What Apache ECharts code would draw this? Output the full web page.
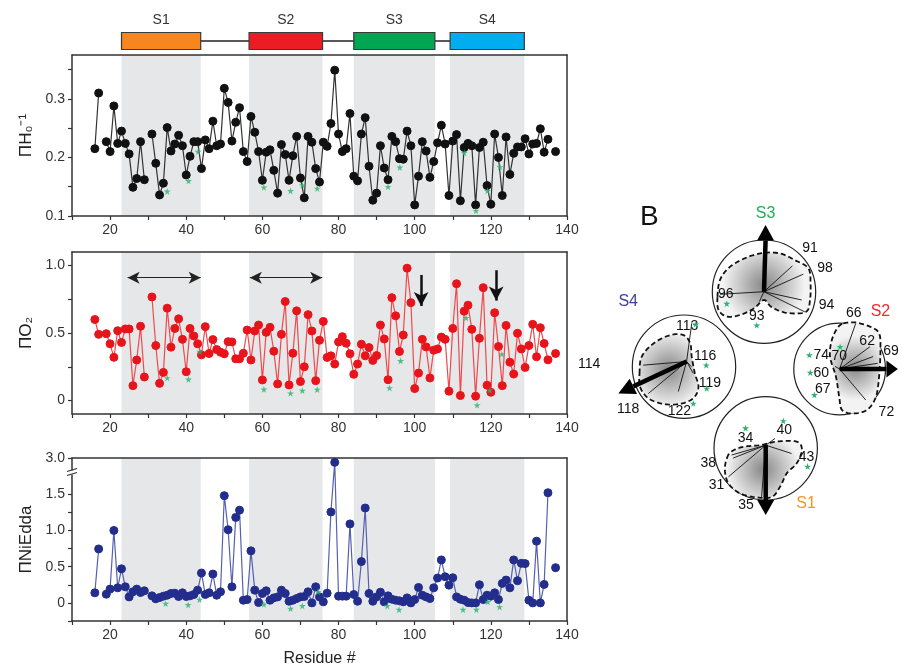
<!DOCTYPE html>
<html><head><meta charset="utf-8">
<script src="https://cdn.jsdelivr.net/npm/echarts@6/dist/echarts.min.js"></script>
<style>html,body{margin:0;padding:0;background:#fff}#c{width:913px;height:669px}</style>
</head><body><div id="c"></div>
<script>
// ---------------- DATA ----------------
const residues = [16,17,18,19,20,21,22,23,24,25,26,27,28,29,30,31,32,33,34,35,36,37,38,39,40,41,42,43,44,45,46,47,48,49,50,
51,52,53,54,55,56,57,58,59,60,61,62,63,64,65,66,67,68,69,70,71,72,73,74,75,76,77,78,79,80,81,82,83,84,85,86,87,88,89,90,
91,92,93,94,95,96,97,98,99,100,101,102,103,104,105,106,107,108,109,110,111,112,113,114,115,116,117,118,119,120,
121,122,123,124,125,126,127,128,129,130,131,132,133,134,135,136,137];

const hValues = [0.215,0.31,null,0.227,0.21,0.288,0.224,0.245,0.224,0.206,0.149,0.164,0.227,0.162,null,0.240,0.19,0.136,0.156,0.251,
0.211,0.223,0.238,0.22,0.170,0.202,0.227,0.227,0.181,0.23,0.215,0.262,0.22,0.223,0.318,0.294,0.228,0.26,0.285,0.21,
0.193,0.27,0.243,0.21,0.161,0.209,0.213,0.178,0.139,0.222,0.205,0.161,0.203,0.236,0.165,0.131,0.236,0.226,0.181,0.158,
0.226,0.219,0.258,0.349,0.24,0.21,0.215,0.275,0.168,0.16,0.24,0.268,0.185,0.127,0.139,0.22,0.182,0.162,0.236,0.227,
0.198,0.197,0.245,0.22,0.119,0.168,0.227,0.211,0.166,0.193,0.225,0.255,0.223,0.135,0.228,0.239,0.126,0.217,0.224,0.22,
0.119,0.217,0.226,0.152,0.12,0.24,0.2,0.135,0.235,0.171,0.207,0.218,0.218,0.232,0.206,0.223,0.224,0.249,0.209,0.231,null,0.21];

const oValues = [0.60,0.49,null,0.495,0.42,0.32,0.517,0.43,0.53,0.53,0.11,0.30,0.55,0.174,null,0.767,0.407,0.127,0.208,0.684,
0.395,0.534,0.605,0.453,0.213,0.534,0.478,0.42,0.338,0.547,0.348,0.451,0.377,0.358,0.346,0.436,0.434,0.309,0.309,0.35,
0.522,0.30,0.515,0.559,0.152,0.505,0.542,0.365,0.123,0.49,0.733,0.115,0.35,0.664,0.14,0.25,0.636,0.515,0.147,0.446,
0.586,0.319,0.331,0.27,0.434,0.473,0.424,0.346,0.194,0.27,0.417,0.331,0.392,0.297,0.333,0.559,0.456,0.154,0.762,0.627,
0.363,0.485,0.98,0.725,0.088,0.203,0.453,0.397,0.167,0.373,0.382,0.47,0.453,0.069,0.534,0.865,0.037,0.662,0.706,0.527,
0.032,0.461,0.836,0.113,0.061,0.65,0.40,0.11,0.556,0.284,0.196,0.498,0.382,0.245,0.407,0.564,0.324,0.539,0.422,0.301,null,0.348];

const nValues = [0.139,0.745,null,0.12,0.19,1.0,0.208,0.47,0.222,0.083,0.153,0.19,0.143,0.167,null,0.097,0.056,0.074,0.093,0.106,
0.13,0.134,0.088,0.139,0.088,0.097,0.116,0.176,0.412,0.116,0.139,0.398,0.106,0.153,1.48,1.01,0.222,1.18,1.28,0.037,
0.046,0.718,0.176,0.005,0.13,0.167,0.037,0.069,0.083,0.176,0.13,0.023,0.037,0.06,0.083,0.088,0.153,0.0,0.222,0.083,
0.014,0.134,1.255,2.7,0.093,0.093,0.093,1.09,0.116,0.023,0.57,1.31,0.13,0.023,0.083,0.148,0.014,0.097,0.051,0.037,
0.028,0.014,0.069,0.0,0.046,0.213,0.106,0.083,0.06,0.208,0.343,0.593,0.361,0.245,0.347,0.083,0.051,0.037,0.005,0.0,
0.0,0.25,0.046,0.106,0.093,0.139,0.046,0.269,0.315,0.208,0.593,0.306,0.546,0.542,0.037,0.0,0.852,0.0,0.255,1.52,null,0.486];

const hStarX = [35,40.6,43.1,60.4,67.4,70.5,74.4,93,96.1,113,116.1,119.1,122.4];
const hStarY = [0.142,0.160,0.21,0.149,0.143,0.153,0.147,0.15,0.183,0.208,0.109,0.143,0.184];
const oStarX = [35,40.6,43.6,60.4,67.4,70.5,74.4,93.4,96.3,113.5,116.4,119.7,122.9];
const oStarY = [0.167,0.157,0.363,0.083,0.054,0.074,0.081,0.093,0.294,0.613,-0.034,0.076,0.343];
const nStarX = [34.6,40.5,43.5,60.4,67.4,70.5,74.6,92.8,95.9,112.7,116.2,119.2,122.3];
const nStarY = [-0.009,-0.028,0.046,-0.019,-0.079,-0.042,0.153,-0.042,-0.093,-0.093,-0.093,0.014,-0.056];

const helixNames = ['S1','S2','S3','S4'];
const helixStart = [23.0,56.5,84.0,109.3];
const helixEnd = [43.8,75.8,105.3,128.8];

const xLabelValues = [20,40,60,80,100,120,140];
const xTickValues = [10,20,30,40,50,60,70,80,90,100,110,120,130,140];
const hLabelValues = [0.1,0.2,0.3];
const hTickValues = [0.1,0.15,0.2,0.25,0.3,0.35];
const oLabelValues = [0,0.5,1.0];
const oTickValues = [0,0.25,0.5,0.75,1.0];
const nLabelValues = [0,0.5,1.0,1.5,3.0];
const nTickValues = [-0.25,0,0.25,0.5,0.75,1.0,1.25,1.5,3.0];

const arcStart = [24.6,56.7];
const arcEnd = [43.8,75.7];
const arcY = [0.91,0.91];
const downX = [101.7,121.4];
const downTop = [0.93,0.965];
const downBottom = [0.70,0.74];

// helical wheels, local units (1 = wheel radius), order S1,S2,S3,S4
const wheelNames = ['S1','S2','S3','S4'];
const wheelOrigins = [[0,0.06],[0,0],[0,0],[0.05,0.10]];
const wheelBlobs = [
 [[-0.75,-0.19],[-0.66,-0.06],[-0.43,0.03],[-0.11,0.06],[0.21,0.13],[0.60,0.13],[0.70,-0.03],[0.60,-0.29],[0.41,-0.48],[0.28,-0.74],[0.12,-0.94],[-0.17,-0.95],[-0.50,-0.87],[-0.72,-0.68],[-0.79,-0.42]],
 [[0.08,0.88],[0.34,0.90],[0.66,0.82],[0.86,0.69],[0.89,0.37],[0.86,-0.15],[0.79,-0.54],[0.60,-0.79],[0.28,-0.86],[0.05,-0.79],[-0.01,-0.54],[-0.08,-0.15],[-0.21,0.24],[-0.17,0.56],[-0.05,0.79]],
 [[-0.90,-0.10],[-0.85,0.23],[-0.66,0.48],[-0.34,0.66],[-0.01,0.75],[0.31,0.74],[0.60,0.61],[0.86,0.45],[0.90,0.16],[0.89,-0.16],[0.81,-0.39],[0.44,-0.41],[0.15,-0.30],[0,-0.16],[-0.19,-0.32],[-0.46,-0.45],[-0.72,-0.48],[-0.88,-0.35]],
 [[-0.86,-0.13],[-0.82,0.19],[-0.59,0.45],[-0.27,0.61],[-0.01,0.61],[0.12,0.45],[0.15,0.19],[0.21,-0.13],[0.28,-0.39],[0.18,-0.61],[-0.08,-0.72],[-0.40,-0.72],[-0.69,-0.61],[-0.85,-0.39]]
];
const wheelSpokes = [
 [[0.18,0.19],[0.50,-0.10],[-0.63,-0.19],[-0.66,-0.13],[-0.72,-0.55],[-0.08,-0.94]],
 [[0.35,0.88],[0.66,0.43],[0.73,0.24],[0.83,0.11],[0.57,-0.60],[-0.10,0.05]],
 [[0.55,0.50],[0.76,0.34],[0.73,-0.16],[0.79,-0.39],[-0.85,-0.05],[-0.09,-0.19]],
 [[0.15,0.84],[-0.79,0.03],[-0.69,-0.52],[-0.11,-0.48],[0.18,-0.13],[0.14,0.0]]
];
const wheelArrows = [
 [[0,-1.0],[0,-1.29]],
 [[1.02,0],[1.27,0]],
 [[0.03,0.99],[0.03,1.29]],
 [[-0.98,-0.38],[-1.27,-0.52]]
];
const wheelLabels = [
 ['34','40','38','43','31','35'],
 ['66','62','69','74','70','60','67','72'],
 ['91','98','94','96','93'],
 ['113','116','119','122','118']
];
const wheelLabelPos = [
 [[-0.39,0.19],[0.36,0.35],[-1.11,-0.29],[0.79,-0.17],[-0.95,-0.71],[-0.38,-1.10]],
 [[0.31,1.08],[0.60,0.53],[1.12,0.34],[-0.40,0.27],[-0.01,0.24],[-0.40,-0.08],[-0.37,-0.39],[1.02,-0.83]],
 [[0.89,0.84],[1.18,0.45],[1.21,-0.26],[-0.74,-0.05],[-0.14,-0.47]],
 [[0.06,0.79],[0.41,0.21],[0.50,-0.31],[-0.09,-0.86],[-1.08,-0.83]]
];
const wheelStars = [
 [[-0.39,0.39],[0.34,0.53],[0.81,-0.35]],
 [[0.01,0.43],[-0.66,0.27],[-0.64,-0.07],[-0.55,-0.50]],
 [[-0.72,-0.23],[-0.14,-0.65]],
 [[0.23,0.82],[0.43,0.03],[0.44,-0.42],[0.18,-0.71]]
];
const wheelTitlePos = [[0.78,-1.06],[0.89,1.11],[0.03,1.52],[-1.08,1.26]];

// ---------------- LAYOUT / STYLE ----------------
const FONT = '"Liberation Sans", Arial, sans-serif';
const helixColors = ['#f7861e','#ec1c24','#00a651','#00aeef'];
const wheelTitleColors = ['#f7941d','#ee2a2f','#1db155','#3d3f99'];
const starGreen = '#2bb36c';
const shade = '#e6e7e9';
const wheelCenters = [[765.7,448.3],[849,369],[764,291.7],[684,366.7]];
const unitPx = 51.7, wheelHalf = 1.6;
const starPathData = 'M50,0L61,35L98,35L68,57L79,91L50,70L21,91L32,57L2,35L39,35Z';

const brk = v => v == null ? null : (v > 1.75 ? 1.75 + (v - 1.75) * 0.2 : v);

// closed Catmull-Rom curve through pixel points (drawing helper only)
function closedSpline(pts, steps) {
  const out = [], n = pts.length;
  for (let i = 0; i < n; i++) {
    const p0 = pts[(i - 1 + n) % n], p1 = pts[i], p2 = pts[(i + 1) % n], p3 = pts[(i + 2) % n];
    for (let s = 0; s < steps; s++) {
      const t = s / steps, t2 = t * t, t3 = t2 * t;
      const f = (a, b, c, d) => 0.5 * (2 * b + (-a + c) * t + (2 * a - 5 * b + 4 * c - d) * t2 + (-a + 3 * b - 3 * c + d) * t3);
      out.push([f(p0[0], p1[0], p2[0], p3[0]), f(p0[1], p1[1], p2[1], p3[1])]);
    }
  }
  return out;
}

const mainGrids = [
  {left:72, width:495, top:55, height:161},
  {left:72, width:495, top:252, height:162},
  {left:72, width:495, top:458, height:163}
];
const yRanges = [[0.1,0.375],[-0.1,1.1],[-0.25,2.0]];
const yNames = ['\u03A0H\u2080\u207B\u00B9','\u03A0O\u2082','\u03A0NiEdda'];

const grids = mainGrids.slice();
grids.push({left:72, width:495, top:10, height:50});
wheelCenters.forEach(c => {
  const s = wheelHalf * unitPx;
  grids.push({left:c[0]-s, top:c[1]-s, width:2*s, height:2*s});
});

const lineCol = '#333';
const xAxes = [], yAxes = [];
for (let i = 0; i < 3; i++) {
  xAxes.push({
    type:'value', gridIndex:i, min:10, max:140, z:10,
    axisLine:{show:true, onZero:false, lineStyle:{color:lineCol, width:1.5}},
    axisTick:{show:true, customValues:xTickValues, length:4, lineStyle:{color:lineCol, width:1.2}},
    axisLabel:{customValues:xLabelValues, fontSize:14, color:'#333', fontFamily:FONT, margin:7},
    splitLine:{show:false},
    name: i === 2 ? 'Residue #' : '', nameLocation:'middle', nameGap:30,
    nameTextStyle:{fontSize:16, color:'#222', fontFamily:FONT}
  });
  const tickVals = i === 0 ? hTickValues : (i === 1 ? oTickValues : nTickValues.map(brk));
  const labVals = i === 0 ? hLabelValues : (i === 1 ? oLabelValues : nLabelValues.map(brk));
  yAxes.push({
    type:'value', gridIndex:i, min:yRanges[i][0], max:yRanges[i][1], z:10,
    axisLine:{show:true, onZero:false, lineStyle:{color:lineCol, width:1.5}},
    axisTick:{show:true, customValues:tickVals, length:4, lineStyle:{color:lineCol, width:1.2}},
    axisLabel:{customValues:labVals, fontSize:14, color:'#333', fontFamily:FONT, margin:7,
      formatter: v => {
        if (i === 0) return v.toFixed(1);
        if (Math.abs(v) < 1e-9) return '0';
        if (i === 2 && v > 1.9) return '3.0';
        return v.toFixed(1);
      }},
    splitLine:{show:false},
    name: yNames[i], nameLocation:'middle', nameGap:32, nameRotate:90,
    nameTextStyle:{fontSize:17, color:'#222', fontFamily:FONT}
  });
}
// segment bar axes
xAxes.push({type:'value', gridIndex:3, min:10, max:140, show:false});
yAxes.push({type:'value', gridIndex:3, min:0, max:1, show:false});
// wheel axes
for (let k = 0; k < 4; k++) {
  xAxes.push({type:'value', gridIndex:4+k, min:-wheelHalf, max:wheelHalf, show:false});
  yAxes.push({type:'value', gridIndex:4+k, min:-wheelHalf, max:wheelHalf, show:false});
}
// box frame (top / right)
for (let i = 0; i < 3; i++) {
  xAxes.push({type:'value', gridIndex:i, position:'top', min:10, max:140, z:10,
    axisLine:{show:true, onZero:false, lineStyle:{color:lineCol, width:1.5}}, axisTick:{show:false}, axisLabel:{show:false}, splitLine:{show:false}});
  yAxes.push({type:'value', gridIndex:i, position:'right', min:yRanges[i][0], max:yRanges[i][1], z:10,
    axisLine:{show:true, onZero:false, lineStyle:{color:lineCol, width:1.5}}, axisTick:{show:false}, axisLabel:{show:false}, splitLine:{show:false}});
}

const shadeData = helixStart.map((s, i) => [{xAxis:s}, {xAxis:helixEnd[i]}]);
const markArea = {silent:true, itemStyle:{color:shade}, data:shadeData};

function lineSeries(idx, vals, dotColor, lnColor) {
  return {
    type:'line', xAxisIndex:idx, yAxisIndex:idx,
    data: residues.map((r, j) => [r, idx === 2 ? brk(vals[j]) : vals[j]]),
    symbol:'circle', symbolSize:8, showSymbol:true, connectNulls:false,
    itemStyle:{color:dotColor, borderColor:dotColor},
    lineStyle:{color:lnColor, width:1.2},
    markArea: markArea, z:3, silent:true
  };
}
function starSeries(idx, xs, ys) {
  return {
    type:'scatter', xAxisIndex:idx, yAxisIndex:idx,
    data: xs.map((x, j) => [x, idx === 2 ? brk(ys[j]) : ys[j]]),
    symbol:'path://' + starPathData, symbolSize:7,
    itemStyle:{color:starGreen}, z:4, silent:true
  };
}

const series = [
  lineSeries(0, hValues, '#111', '#333'),
  starSeries(0, hStarX, hStarY),
  lineSeries(1, oValues, '#e8141b', '#f0484c'),
  starSeries(1, oStarX, oStarY),
  lineSeries(2, nValues, '#232d8c', '#5560b0'),
  starSeries(2, nStarX, nStarY),
  {
    type:'line', xAxisIndex:1, yAxisIndex:1, data:[], silent:true,
    markLine:{silent:true, symbol:['arrow','arrow'], symbolSize:[9,12], label:{show:false},
      lineStyle:{color:'#222', width:1.2, type:'solid', curveness:0.38},
      data: arcStart.map((s, i) => [{coord:[s, arcY[i]]}, {coord:[arcEnd[i], arcY[i]]}])}
  },
  {
    type:'line', xAxisIndex:1, yAxisIndex:1, data:[], silent:true,
    markLine:{silent:true, symbol:['none','arrow'], symbolSize:[11,14], label:{show:false},
      lineStyle:{color:'#111', width:2.5, type:'solid'},
      data: downX.map((x, i) => [{coord:[x, downTop[i]]}, {coord:[x, downBottom[i]]}])}
  },
  {
    type:'custom', xAxisIndex:3, yAxisIndex:3, silent:true, clip:false,
    data: helixStart.map((s, i) => [s, helixEnd[i], i]),
    renderItem: (params, api) => {
      const i = params.dataIndex;
      const a = api.coord([api.value(0), 0.38]);
      const b = api.coord([api.value(1), 0.38]);
      const h = 17;
      const ch = [];
      if (i < helixStart.length - 1) {
        const n = api.coord([helixStart[i+1], 0.38]);
        ch.push({type:'line', shape:{x1:b[0], y1:b[1], x2:n[0], y2:n[1]}, style:{stroke:'#222', lineWidth:1.5}});
      }
      ch.push({type:'rect', shape:{x:a[0], y:a[1]-h/2, width:b[0]-a[0], height:h},
        style:{fill:helixColors[i], stroke:'#3a3a3a', lineWidth:1.2}});
      ch.push({type:'text', style:{text:helixNames[i], x:(a[0]+b[0])/2, y:a[1]-21, align:'center', verticalAlign:'middle',
        fontSize:14, fontFamily:FONT, fill:'#333'}});
      return {type:'group', children:ch};
    }
  }
];

function wheelRender(k) {
  return (params, api) => {
    const C = api.coord([0, 0]);
    const R = api.size([1, 0])[0];
    const O = api.coord(wheelOrigins[k]);
    const ch = [];
    ch.push({type:'circle', shape:{cx:C[0], cy:C[1], r:R}, style:{fill:'#fff', stroke:'#222', lineWidth:1.2}});
    const blobPx = closedSpline(wheelBlobs[k].map(p => api.coord(p)), 8);
    ch.push({type:'polygon', shape:{points:blobPx},
      style:{fill:new echarts.graphic.RadialGradient(0.5, 0.5, 0.62, [{offset:0, color:'#878787'}, {offset:1, color:'#f3f3f3'}]),
        stroke:'#111', lineWidth:1.8, lineDash:[5,3]}});
    wheelSpokes[k].forEach(p => {
      const P = api.coord(p);
      ch.push({type:'line', shape:{x1:O[0], y1:O[1], x2:P[0], y2:P[1]}, style:{stroke:'#111', lineWidth:0.9}});
    });
    const B = api.coord(wheelArrows[k][0]);
    const T = api.coord(wheelArrows[k][1]);
    ch.push({type:'line', shape:{x1:O[0], y1:O[1], x2:B[0], y2:B[1]}, style:{stroke:'#000', lineWidth:4.5}});
    const dx = T[0]-B[0], dy = T[1]-B[1], L = Math.hypot(dx, dy) || 1;
    const px = -dy/L*8.5, py = dx/L*8.5;
    ch.push({type:'polygon', shape:{points:[[T[0],T[1]],[B[0]+px,B[1]+py],[B[0]-px,B[1]-py]]}, style:{fill:'#000'}});
    wheelLabels[k].forEach((t, j) => {
      const P = api.coord(wheelLabelPos[k][j]);
      ch.push({type:'text', style:{text:t, x:P[0], y:P[1], align:'center', verticalAlign:'middle',
        fontSize:14, fontFamily:FONT, fill:'#111'}});
    });
    wheelStars[k].forEach(p => {
      const P = api.coord(p);
      ch.push({type:'path', shape:{pathData:starPathData, x:P[0]-3.5, y:P[1]-3.5, width:7, height:7, layout:'center'},
        style:{fill:starGreen}});
    });
    const TP = api.coord(wheelTitlePos[k]);
    ch.push({type:'text', style:{text:wheelNames[k], x:TP[0], y:TP[1], align:'center', verticalAlign:'middle',
      fontSize:16, fontFamily:FONT, fill:wheelTitleColors[k]}});
    return {type:'group', children:ch};
  };
}
for (let k = 0; k < 4; k++) {
  series.push({type:'custom', xAxisIndex:4+k, yAxisIndex:4+k, silent:true, clip:false, z:5,
    data:[[0,0]], renderItem:wheelRender(k)});
}

const chart = echarts.init(document.getElementById('c'), null, {renderer:'canvas'});
chart.setOption({
  animation:false,
  backgroundColor:'#fff',
  grid:grids,
  xAxis:xAxes,
  yAxis:yAxes,
  series:series
});
// axis-break mark on the bottom panel's y axis
const bp = chart.convertToPixel({gridIndex:2}, [10, 1.8]);
chart.setOption({graphic:[
  {type:'text', left:640, top:203, style:{text:'B', fontSize:28, fontFamily:FONT, fill:'#111'}},
  {type:'text', left:578, top:357, style:{text:'114', fontSize:14, fontFamily:FONT, fill:'#111'}},
  {type:'rect', shape:{x:bp[0]-5, y:bp[1]-2, width:10, height:4}, style:{fill:'#fff'}, z:100},
  {type:'line', shape:{x1:bp[0]-5, y1:bp[1]-1, x2:bp[0]+5, y2:bp[1]-4}, style:{stroke:'#333', lineWidth:1.2}, z:101},
  {type:'line', shape:{x1:bp[0]-5, y1:bp[1]+3, x2:bp[0]+5, y2:bp[1]}, style:{stroke:'#333', lineWidth:1.2}, z:101}
]});
</script></body></html>
